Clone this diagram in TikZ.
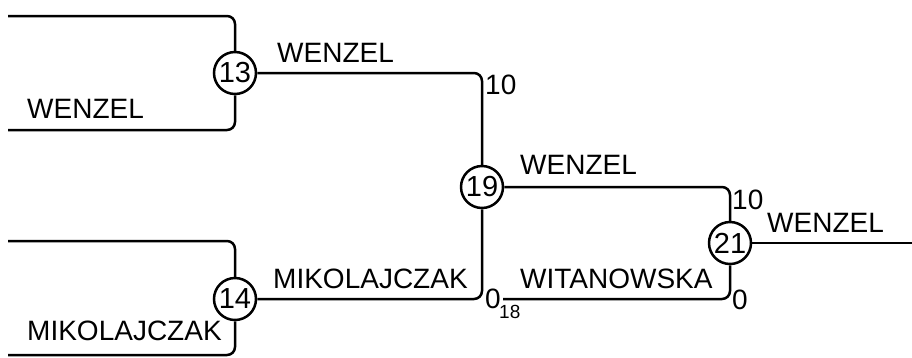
\documentclass[tikz,border=0pt]{standalone}
\usepackage{fontspec}
\setmainfont{Liberation Sans}
\begin{document}
\begin{tikzpicture}[x=1pt,y=-1pt,
  wire/.style={line width=2.5pt,rounded corners=8pt},
  matchnode/.style={circle,draw,line width=2.5pt,minimum size=42pt,inner sep=0pt,font=\fontsize{29}{30}\selectfont},
  player/.style={anchor=base west,inner sep=0pt,font=\fontsize{28}{32}\selectfont},
  scorelbl/.style={anchor=base west,inner sep=0pt,font=\fontsize{28}{30}\selectfont},
  seedlbl/.style={anchor=base west,inner sep=0pt,font=\fontsize{19}{22}\selectfont}]
\useasboundingbox (0,0) rectangle (912,357);
% match nodes
\node[matchnode] (n13) at (235,73) {13};
\node[matchnode] (n14) at (235,299) {14};
\node[matchnode] (n19) at (482,187) {19};
\node[matchnode] (n21) at (730,243) {21};
% free ends
\coordinate (a13t) at (8,16);
\coordinate (a13b) at (8,130);
\coordinate (a14t) at (8,241);
\coordinate (a14b) at (8,355);
\coordinate (s18) at (503,299);
\coordinate (out) at (912,243);
% connectors
\draw[wire] (a13t) -| (n13);
\draw[wire] (a13b) -| (n13);
\draw[wire] (a14t) -| (n14);
\draw[wire] (a14b) -| (n14);
\draw[wire] (n13) -| (n19);
\draw[wire] (n14) -| (n19);
\draw[wire] (n19) -| (n21);
\draw[wire] (s18) -| (n21);
\draw[wire] (n21) -- (out);
% names
\node[player] (t1) at (27,118) {WENZEL};
\node[player] (t2) at (27,340) {MIKOLAJCZAK};
\node[player] (t3) at (277,62) {WENZEL};
\node[player] (t4) at (273,288) {MIKOLAJCZAK};
\node[player] (t5) at (520,174) {WENZEL};
\node[player] (t6) at (520,288) {WITANOWSKA};
\node[player] (t7) at (767,232) {WENZEL};
% scores
\node[scorelbl] (s1) at (485,94) {10};
\node[scorelbl] (s2) at (485,308) {0};
\node[seedlbl] (s3) at (499,318) {18};
\node[scorelbl] (s4) at (732,209) {10};
\node[scorelbl] (s5) at (732,309) {0};
\end{tikzpicture}
\end{document}
